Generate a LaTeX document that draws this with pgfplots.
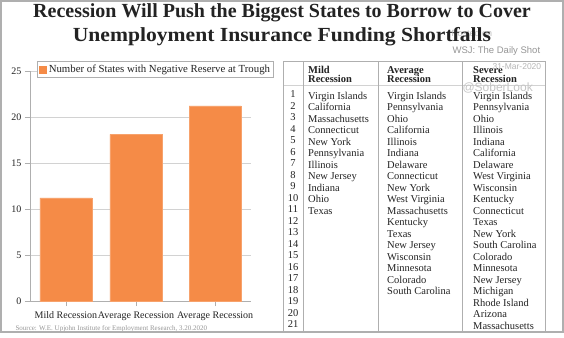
\documentclass[border=0pt]{standalone}
\usepackage{pgfplots}
\pgfplotsset{compat=1.18}
\usepackage{fontspec}
\setmainfont{Liberation Serif}
\setsansfont{Liberation Sans}
\definecolor{barorange}{RGB}{245,139,71}
\definecolor{gridgray}{RGB}{210,210,210}
\definecolor{axgray}{RGB}{175,175,175}
\definecolor{txt}{RGB}{35,35,35}
\definecolor{wm}{RGB}{150,150,150}
\begin{document}
\begin{tikzpicture}
\path[use as bounding box] (0pt,0pt) rectangle (564pt,-337pt);
\fill[white] (0pt,0pt) rectangle (564pt,-337pt);
% watermarks behind title
\node[font=\sffamily\fontsize{9}{10}\selectfont, text=wm!60, anchor=west] at (448pt,-33pt) {Posted on};
\node[font=\sffamily\fontsize{9.5}{10}\selectfont, text=wm, anchor=west] at (449pt,-51pt) {WSJ: The Daily Shot};
% title
\node[font=\bfseries\fontsize{20}{22}\selectfont, text=txt] at (282pt,-12.5pt) {Recession Will Push the Biggest States to Borrow to Cover};
\node[font=\bfseries\fontsize{20}{22}\selectfont, text=txt] at (282pt,-37pt) {\scalebox{1.08}[1]{Unemployment Insurance Funding Shortfalls}};
% chart
\begin{axis}[
  scale only axis, width=221pt, height=230pt,
  at={(30pt,-301pt)}, anchor=south west,
  xmin=-0.514, xmax=2.643, ymin=0, ymax=25,
  axis x line*=bottom, axis y line*=left,
  axis line style={draw=axgray, line width=0.8pt, -},
  ytick={0,5,10,15,20,25},
  xtick={0,1,2.13},
  xticklabels={Mild Recession, Average Recession, Average Recession},
  tick align=outside, major tick length=5pt,
  tick style={draw=axgray, line width=0.8pt},
  ymajorgrids, grid style={draw=gridgray, line width=0.8pt},
  tick label style={font=\fontsize{10}{12}\selectfont, text=txt},
  xticklabel style={yshift=-2pt},
  /pgf/number format/assume math mode=true,
  ybar, bar width=52pt, bar shift=0pt,
  legend style={at={(0.032,1.043)}, anchor=north west, draw=axgray, line width=0.8pt,
    font=\fontsize{10.8}{12}\selectfont, text=txt, inner sep=1.5pt},
  legend image code/.code={\fill[barorange] (0pt,-3.5pt) rectangle (7pt,3.5pt);},
]
\addplot[fill=barorange, draw=barorange!80!white] coordinates {(0,11.2) (1,18.1) (2.13,21.2)};
\addlegendentry{Number of States with Negative Reserve at Trough}
\end{axis}
% source
\begin{scope}
\clip (0pt,0pt) rectangle (564pt,-331pt);
\node[font=\fontsize{7}{8}\selectfont, text=wm, anchor=west] at (12pt,-329pt) {Source: W.E. Upjohn Institute for Employment Research, 3.20.2020};
% table
\draw[axgray, line width=0.9pt] (283pt,-61pt) -- (545pt,-61pt);
\draw[gridgray, line width=0.8pt] (283pt,-85pt) -- (545pt,-85pt);
\foreach \x in {283,303,378,462,545} \draw[axgray, line width=0.9pt] (\x pt,-61pt) -- (\x pt,-340pt);
\foreach \x/\h in {308/Mild,387/Average,473/Severe} {
  \node[font=\bfseries\fontsize{10.5}{12}\selectfont, text=txt, anchor=base west, inner sep=0pt] at (\x pt,-73.5pt) {\h};
  \node[font=\bfseries\fontsize{10.5}{12}\selectfont, text=txt, anchor=base west, inner sep=0pt] at (\x pt,-82.5pt) {Recession};
}
\foreach \i in {1,...,21} {
  \pgfmathsetmacro\yy{-(95.7+11.5*(\i-1))-2}
  \node[font=\fontsize{10.5}{12}\selectfont, text=txt, inner sep=0pt, anchor=base] at (293pt,\yy pt) {\i};
}
\foreach \n [count=\i] in {Virgin Islands, California, Massachusetts, Connecticut, New York, Pennsylvania, Illinois, New Jersey, Indiana, Ohio, Texas} {
  \pgfmathsetmacro\yy{-(95.7+11.5*(\i-1))-3.6}
  \node[font=\fontsize{10.5}{12}\selectfont, text=txt, anchor=base west, inner sep=0pt] at (308pt,\yy pt) {\n};
}
\foreach \n [count=\i] in {Virgin Islands, Pennsylvania, Ohio, California, Illinois, Indiana, Delaware, Connecticut, New York, West Virginia, Massachusetts, Kentucky, Texas, New Jersey, Wisconsin, Minnesota, Colorado, South Carolina} {
  \pgfmathsetmacro\yy{-(95.7+11.5*(\i-1))-3.6}
  \node[font=\fontsize{10.5}{12}\selectfont, text=txt, anchor=base west, inner sep=0pt] at (387pt,\yy pt) {\n};
}
\foreach \n [count=\i] in {Virgin Islands, Pennsylvania, Ohio, Illinois, Indiana, California, Delaware, West Virginia, Wisconsin, Kentucky, Connecticut, Texas, New York, South Carolina, Colorado, Minnesota, New Jersey, Michigan, Rhode Island, Arizona, Massachusetts} {
  \pgfmathsetmacro\yy{-(95.7+11.5*(\i-1))-3.6}
  \node[font=\fontsize{10.5}{12}\selectfont, text=txt, anchor=base west, inner sep=0pt] at (473pt,\yy pt) {\n};
}
\end{scope}
% watermarks over table
\node[font=\sffamily\fontsize{8.5}{10}\selectfont, text=wm!70, anchor=west] at (489pt,-67pt) {31-Mar-2020};
\node[font=\sffamily\fontsize{12}{14}\selectfont, text=wm!55, anchor=west] at (459pt,-88pt) {@SoberLook};
% frame
\draw[axgray, line width=1.5pt] (1pt,-1pt) rectangle (563pt,-332pt);
\end{tikzpicture}
\end{document}
